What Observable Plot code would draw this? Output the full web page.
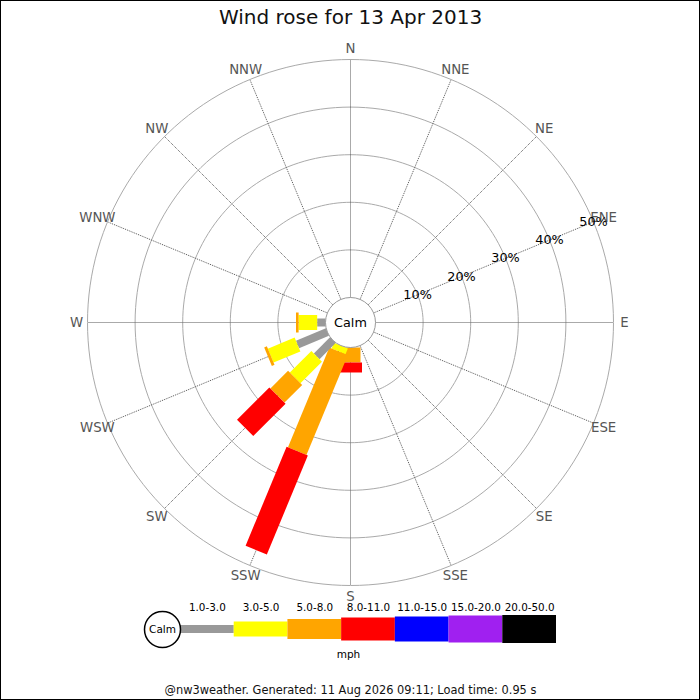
<!DOCTYPE html>
<html>
<head>
<meta charset="utf-8">
<script src="https://cdn.jsdelivr.net/npm/d3@7"></script>
<script src="https://cdn.jsdelivr.net/npm/@observablehq/plot@0.6"></script>
<style>
  body { margin: 0; background: white; }
  #wrap { position: relative; width: 700px; height: 700px; outline: 1px solid black; outline-offset: -1px; }
  #wrap svg { position: absolute; left: 0; }
</style>
</head>
<body>
<div id="wrap"></div>
<script>
// ---------- data ----------
const titleText = "Wind rose for 13 Apr 2013";
const footerText = "@nw3weather. Generated: 11 Aug 2026 09:11; Load time: 0.95 s";
const unitText = "mph";
const calmText = "Calm";
const directions = ["N","NNE","NE","ENE","E","ESE","SE","SSE","S","SSW","SW","WSW","W","WNW","NW","NNW"];
const speedBins = ["1.0-3.0","3.0-5.0","5.0-8.0","8.0-11.0","11.0-15.0","15.0-20.0","20.0-50.0"];
const binColors = ["#999999","#ffff00","#ffa500","#ff0000","#0000ff","#a020f0","#000000"];
// frequency (%) per direction, N..NNW, for each speed bin
const freq_1_3   = [0,0,0,0,0,0,0,0,0,    0,   4.8, 6.8, 1.75,0,0,0];
const freq_3_5   = [0,0,0,0,0,0,0,0,0,    1.3, 6.4, 6.1, 3.9, 0,0,0];
const freq_5_8   = [0,0,0,0,0,0,0,0,3.15, 22.7,5.25,0.6, 0.55,0,0,0];
const freq_8_11  = [0,0,0,0,0,0,0,0,2.1,  22.5,9.6, 0,   0,   0,0,0];
const freq_11_15 = [0,0,0,0,0,0,0,0,0,0,0,0,0,0,0,0];
const freq_15_20 = [0,0,0,0,0,0,0,0,0,0,0,0,0,0,0,0];
const freq_20_50 = [0,0,0,0,0,0,0,0,0,0,0,0,0,0,0,0];
const ringPercents = [10,20,30,40,50];
const ringLabels = ["10%","20%","30%","40%","50%"];

// ---------- style / layout ----------
const series = [freq_1_3,freq_3_5,freq_5_8,freq_8_11,freq_11_15,freq_15_20,freq_20_50];
const binWidths = [8,15,20,23,25,27,28];     // px thickness of each speed band
const pxPerPct = 4.76;
const calmPx = 25;
const c = calmPx / pxPerPct;                  // calm offset in % units
const cx = 350, cy = 322, W = 700, H = 700;
const maxPct = 50;
const labelR = c + (274 - calmPx) / pxPerPct;
const pctLabelAngle = 67.5;
const rad = a => a * Math.PI / 180;
const px = (r, a) => r * Math.sin(rad(a));
const py = (r, a) => r * Math.cos(rad(a));

// rings
const ringPts = [];
for (const p of ringPercents) for (let a = 0; a <= 360; a += 2) ringPts.push({p, x: px(c + p, a), y: py(c + p, a)});
// spokes
const spokes = directions.map((d, i) => ({d, a: i * 22.5}));
// segments
const segs = [];
directions.forEach((d, i) => {
  let cum = 0;
  series.forEach((s, b) => {
    const v = s[i];
    if (v > 0) {
      segs.push({dir: d, bin: speedBins[b], a: i * 22.5, r1: c + cum, r2: c + cum + v, color: binColors[b], w: binWidths[b]});
      cum += v;
    }
  });
});

const font = "DejaVu Sans, Verdana, sans-serif";

const main = Plot.plot({
  width: W, height: H, margin: 0,
  x: {domain: [-cx / pxPerPct, (W - cx) / pxPerPct], range: [0, W], axis: null},
  y: {domain: [-(H - cy) / pxPerPct, cy / pxPerPct], range: [H, 0], axis: null},
  style: {fontFamily: font, background: "transparent"},
  marks: [
    Plot.line(ringPts, {x: "x", y: "y", z: "p", stroke: "#aaaaaa", strokeWidth: 1}),
    Plot.link(spokes, {
      x1: d => px(c, d.a), y1: d => py(c, d.a),
      x2: d => px(c + maxPct, d.a), y2: d => py(c + maxPct, d.a),
      stroke: "#555", strokeWidth: 1, strokeDasharray: "1,1"
    }),
    Plot.link(segs, {
      x1: d => px(d.r1, d.a), y1: d => py(d.r1, d.a),
      x2: d => px(d.r2, d.a), y2: d => py(d.r2, d.a),
      stroke: "color", strokeWidth: "w", strokeLinecap: "butt"
    }),
    Plot.dot([{x: 0, y: 0}], {x: "x", y: "y", r: calmPx, fill: "white", stroke: "#999", strokeWidth: 1}),
    Plot.text([calmText], {x: () => 0, y: () => 0, text: d => d, fontSize: 12.8, fill: "black", textAnchor: "middle", lineAnchor: "middle"}),
    Plot.text(spokes, {
      x: d => px(labelR, d.a), y: d => py(labelR, d.a), text: "d",
      fontSize: 13.3, fill: "#555", textAnchor: "middle", lineAnchor: "middle"
    }),
    Plot.text(ringPercents, {
      x: p => px(c + p, pctLabelAngle), y: p => py(c + p, pctLabelAngle),
      text: (p, i) => ringLabels[i], fontSize: 12.8, fill: "black", textAnchor: "middle", lineAnchor: "middle"
    }),
    Plot.text([titleText], {frameAnchor: "top", dy: 17, text: d => d, fontSize: 20, fill: "#111", lineAnchor: "middle"}),
    Plot.text([footerText], {frameAnchor: "bottom", dy: -10, text: d => d, fontSize: 11.4, fill: "#111", lineAnchor: "middle"})
  ]
});
main.style.top = "0px";

// legend
const legH = 80;
const legendData = speedBins.map((b, i) => ({b, i, color: binColors[i], w: binWidths[i]}));
const calmLegendR = 18;
const legendSegPx = (556 - 180) / speedBins.length;
const legend = Plot.plot({
  width: W, height: legH, margin: 0,
  x: {domain: [0, speedBins.length], range: [180, 556], axis: null},
  y: {domain: [-39, legH - 39], range: [0, legH], axis: null},
  style: {fontFamily: font, background: "transparent"},
  marks: [
    Plot.rect(legendData, {x1: "i", x2: d => d.i + 1, y1: d => -d.w / 2, y2: d => d.w / 2, fill: "color"}),
    Plot.dot([0], {x: () => -calmLegendR / legendSegPx, y: () => 0, r: calmLegendR, fill: "white", stroke: "black"}),
    Plot.text([calmText], {x: () => -calmLegendR / legendSegPx, y: () => 0, text: d => d, fontSize: 10.5, fill: "black", lineAnchor: "middle"}),
    Plot.text(legendData, {x: d => d.i + 0.5, frameAnchor: "top", dy: 17, text: "b", fontSize: 10.4, fill: "black", lineAnchor: "middle"}),
    Plot.text([unitText], {frameAnchor: "top", dy: 64, dx: -2, text: d => d, fontSize: 10.5, fill: "black", lineAnchor: "middle"})
  ]
});
legend.style.top = "590px";

const wrap = document.getElementById("wrap");
wrap.appendChild(main);
wrap.appendChild(legend);
</script>
</body>
</html>
